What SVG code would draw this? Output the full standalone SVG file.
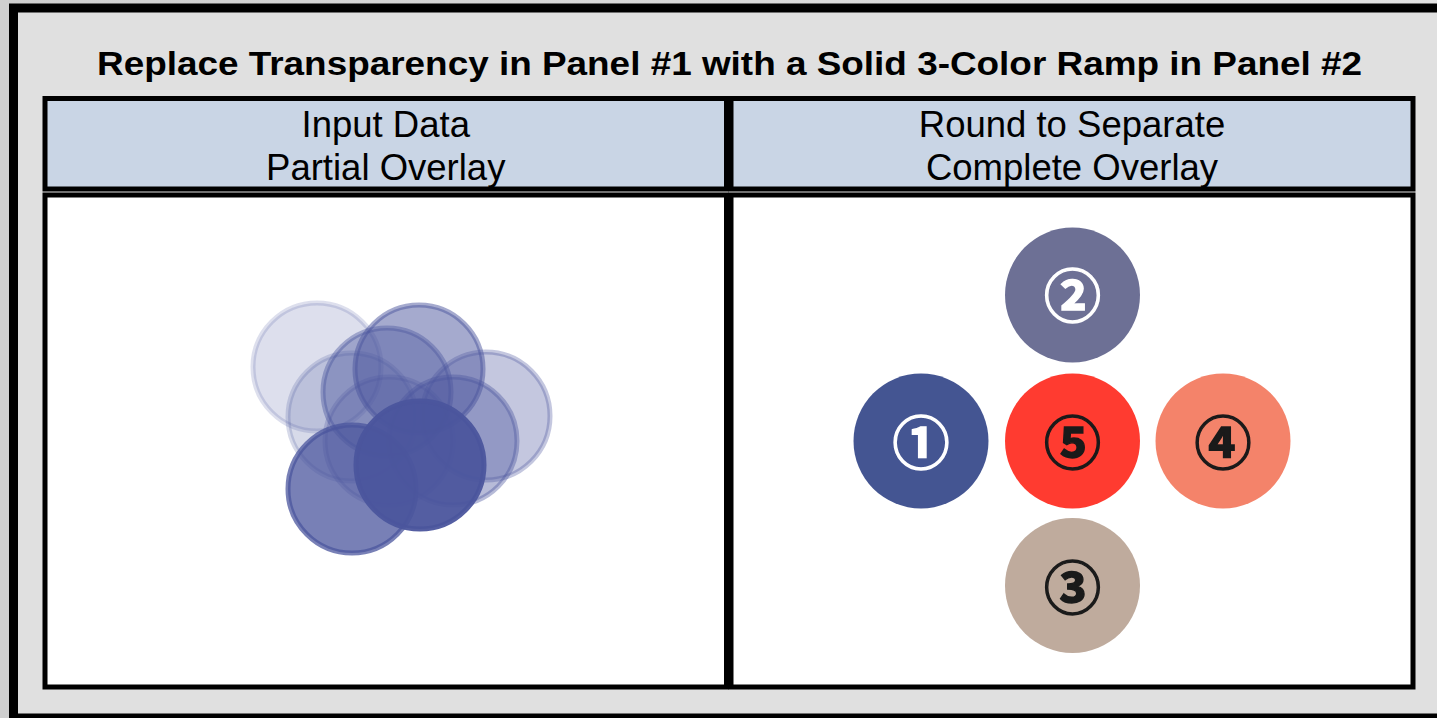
<svg xmlns="http://www.w3.org/2000/svg" width="1437" height="718" viewBox="0 0 1437 718">
  <defs>
    <linearGradient id="edge" x1="0" y1="0" x2="1" y2="0">
      <stop offset="0" stop-color="#cfcfcf"/>
      <stop offset="1" stop-color="#e2e2e2"/>
    </linearGradient>
  </defs>
  <style>
    .frame { fill: #e0e0e0; stroke: #000; stroke-width: 9; }
    .title { font-family: "Liberation Sans", Arial, sans-serif; font-weight: bold; font-size: 34px; fill: #000; }
    .head { fill: #c9d5e5; stroke: #000; stroke-width: 5; }
    .body { fill: #fff; stroke: #000; stroke-width: 5; }
    .htext { font-family: "Liberation Sans", Arial, sans-serif; font-size: 36.5px; fill: #000; text-anchor: middle; }
    .blob { fill: #4b559d; stroke: #4b559d; stroke-width: 5; }
    .num { font-family: "Noto Sans CJK JP", "DejaVu Sans", sans-serif; font-weight: bold; font-size: 57px; text-anchor: middle; dominant-baseline: central; stroke-width: 1.4; }
    .light { fill: #fff; stroke: #fff; }
    .dark { fill: #1a1a1a; stroke: #1a1a1a; }
  </style>

  <!-- page background and outer frame -->
  <rect x="0" y="0" width="1437" height="718" fill="url(#edge)"/>
  <rect class="frame" x="13.5" y="8" width="1440" height="710"/>

  <text class="title" x="97" y="75" textLength="1265" lengthAdjust="spacingAndGlyphs">Replace Transparency in Panel #1 with a Solid 3-Color Ramp in Panel #2</text>

  <!-- panel 1: transparent input -->
  <g id="panel1">
    <rect class="head" x="45" y="98.5" width="681.5" height="90.5"/>
    <rect class="body" x="45" y="195" width="681.5" height="492"/>
    <text class="htext" x="385.75" y="137">Input Data</text>
    <text class="htext" x="385.75" y="180">Partial Overlay</text>
    <g id="overlay">
      <circle class="blob" cx="317" cy="367" r="64" fill-opacity="0.19" stroke-opacity="0.19"/>
      <circle class="blob" cx="352" cy="417" r="64" fill-opacity="0.22" stroke-opacity="0.22"/>
      <circle class="blob" cx="389" cy="441" r="64" fill-opacity="0.25" stroke-opacity="0.25"/>
      <circle class="blob" cx="486" cy="416" r="64" fill-opacity="0.33" stroke-opacity="0.33"/>
      <circle class="blob" cx="387" cy="392" r="64" fill-opacity="0.42" stroke-opacity="0.42"/>
      <circle class="blob" cx="419" cy="369" r="64" fill-opacity="0.5" stroke-opacity="0.5"/>
      <circle class="blob" cx="453" cy="441" r="64" fill-opacity="0.4" stroke-opacity="0.4"/>
      <circle class="blob" cx="352" cy="489" r="64" fill-opacity="0.75" stroke-opacity="0.75"/>
      <circle class="blob" cx="420" cy="465" r="64" fill-opacity="0.95" stroke-opacity="0.95"/>
    </g>
  </g>

  <!-- panel 2: solid colour ramp -->
  <g id="panel2">
    <rect class="head" x="731" y="98.5" width="682" height="90.5"/>
    <rect class="body" x="731" y="195" width="682" height="492"/>
    <text class="htext" x="1072" y="137">Round to Separate</text>
    <text class="htext" x="1072" y="180">Complete Overlay</text>
  </g>

  <g id="node2">
    <circle cx="1072.5" cy="295" r="67.5" fill="#6d7095"/>
    <text class="num light" x="1072.5" y="292">②</text>
  </g>
  <g id="node1">
    <circle cx="921" cy="441" r="67.5" fill="#445592"/>
    <text class="num light" x="921" y="439">①</text>
  </g>
  <g id="node5">
    <circle cx="1072.5" cy="441" r="67.5" fill="#ff3b30"/>
    <text class="num dark" x="1072.5" y="439">⑤</text>
  </g>
  <g id="node4">
    <circle cx="1223" cy="441" r="67.5" fill="#f4836a"/>
    <text class="num dark" x="1223" y="439">④</text>
  </g>
  <g id="node3">
    <circle cx="1072.5" cy="585.5" r="67.5" fill="#bfab9d"/>
    <text class="num dark" x="1072.5" y="584">③</text>
  </g>
</svg>
